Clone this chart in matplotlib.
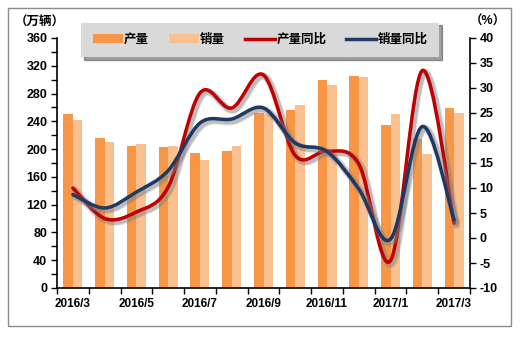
import numpy as np
import matplotlib.pyplot as plt
from matplotlib.path import Path
from matplotlib.patches import PathPatch, Patch, Rectangle
from matplotlib.lines import Line2D
import matplotlib.patheffects as pe

plt.rcParams['font.family'] = ['Liberation Sans', 'Noto Sans CJK SC']
plt.rcParams['font.weight'] = 'bold'
plt.rcParams['axes.unicode_minus'] = False

months = ['2016/3', '2016/4', '2016/5', '2016/6', '2016/7', '2016/8', '2016/9',
          '2016/10', '2016/11', '2016/12', '2017/1', '2017/2', '2017/3']
output = [251, 216, 205, 203, 194, 197, 252, 256, 300, 305, 235, 215, 259]   # 产量, 万辆
sales = [242, 210, 207, 205, 184, 205, 250, 263, 292, 304, 251, 193, 252]    # 销量, 万辆
output_yoy = [10.0, 3.9, 5.2, 10.2, 29.0, 26.0, 32.6, 16.5, 17.4, 14.8, -4.5, 33.5, 3.0]
sales_yoy = [8.7, 6.0, 9.2, 13.5, 23.0, 23.8, 26.0, 19.0, 17.3, 9.8, -0.2, 22.3, 3.6]

c_out = '#F79646'
c_sal = '#FAC090'
c_red = '#C00000'
c_blue = '#1F3864'


def smooth_path(ys):
    # Bezier segments through every point, like a "smoothed line" in Excel
    pts = np.column_stack([np.arange(len(ys)), ys]).astype(float)
    n = len(pts)
    verts = [pts[0]]
    codes = [Path.MOVETO]
    for i in range(n - 1):
        p_prev = pts[max(i - 1, 0)]
        p_next2 = pts[min(i + 2, n - 1)]
        c1 = pts[i] + (pts[i + 1] - p_prev) / 6
        c2 = pts[i + 1] - (p_next2 - pts[i]) / 6
        verts += [c1, c2, pts[i + 1]]
        codes += [Path.CURVE4] * 3
    return Path(verts, codes)


fig = plt.figure(figsize=(5.21, 3.37), dpi=100)
fig.patches.append(Rectangle((8 / 521, 11 / 337), 503 / 521, 318 / 337,
                             transform=fig.transFigure, fill=False,
                             edgecolor='#8C8C8C', linewidth=1.0))

ax = fig.add_axes([57 / 521, 49 / 337, 413 / 521, 250 / 337])
x = np.arange(len(months))
ax.bar(x - 0.15, output, width=0.3, color=c_out, zorder=2)
ax.bar(x + 0.15, sales, width=0.3, color=c_sal, zorder=2)
ax.set_xlim(-0.5, len(months) - 0.5)
ax.set_ylim(0, 360)
ax.set_yticks(np.arange(0, 361, 40))
ax.set_yticks(np.arange(0, 361, 20), minor=True)
ax.set_xticks(x[::2], [months[i] for i in x[::2]])
ax.set_xticks(np.arange(-0.5, len(months)), minor=True)
ax.tick_params(axis='x', which='major', length=0, pad=7, labelsize=8.5)
ax.tick_params(axis='x', which='minor', length=4, width=1)
ax.tick_params(axis='y', which='both', length=4, width=1, labelsize=9, pad=3)
ax.spines['top'].set_visible(False)
ax.spines['right'].set_visible(False)
for s in ('left', 'bottom'):
    ax.spines[s].set_linewidth(1.2)

ax2 = ax.twinx()
ax2.set_ylim(-10, 40)
ax2.set_yticks(np.arange(-10, 41, 5))
ax2.tick_params(axis='y', length=4, width=1, labelsize=9, pad=3)
ax2.spines['top'].set_visible(False)
ax2.spines['left'].set_visible(False)
ax2.spines['bottom'].set_visible(False)
ax2.spines['right'].set_linewidth(1.2)

shadow = [pe.SimpleLineShadow(offset=(1.5, -1.5), shadow_color='#7F7F7F', alpha=0.25, linewidth=5.5),
          pe.SimpleLineShadow(offset=(1.5, -1.5), shadow_color='#7F7F7F', alpha=0.35, linewidth=4),
          pe.Normal()]
for ys, col in ((output_yoy, c_red), (sales_yoy, c_blue)):
    patch = PathPatch(smooth_path(ys), facecolor='none', edgecolor=col,
                      linewidth=2.5, capstyle='round', joinstyle='round', zorder=3)
    patch.set_path_effects(shadow)
    ax2.add_patch(patch)

fig.text(40 / 521, 1 - 23 / 337, '（万辆）', ha='center', va='center', fontsize=9)
fig.text(488 / 521, 1 - 22 / 337, '（%）', ha='center', va='center', fontsize=9)

handles = [Patch(facecolor=c_out), Patch(facecolor=c_sal),
           Line2D([], [], color=c_red, lw=2.5), Line2D([], [], color=c_blue, lw=2.5)]
labels = ['产量', '销量', '产量同比', '销量同比']
leg = fig.legend(handles, labels, ncol=4, loc='center',
                 bbox_to_anchor=(260 / 521, 1 - 40 / 337), frameon=True,
                 facecolor='#D9D9D9', edgecolor='none', fancybox=False, shadow=True,
                 framealpha=1, fontsize=9, handlelength=2.4, handleheight=0.7,
                 handletextpad=0.1, columnspacing=1.6, borderpad=0.9)

fig.savefig('out.png', dpi=100)
